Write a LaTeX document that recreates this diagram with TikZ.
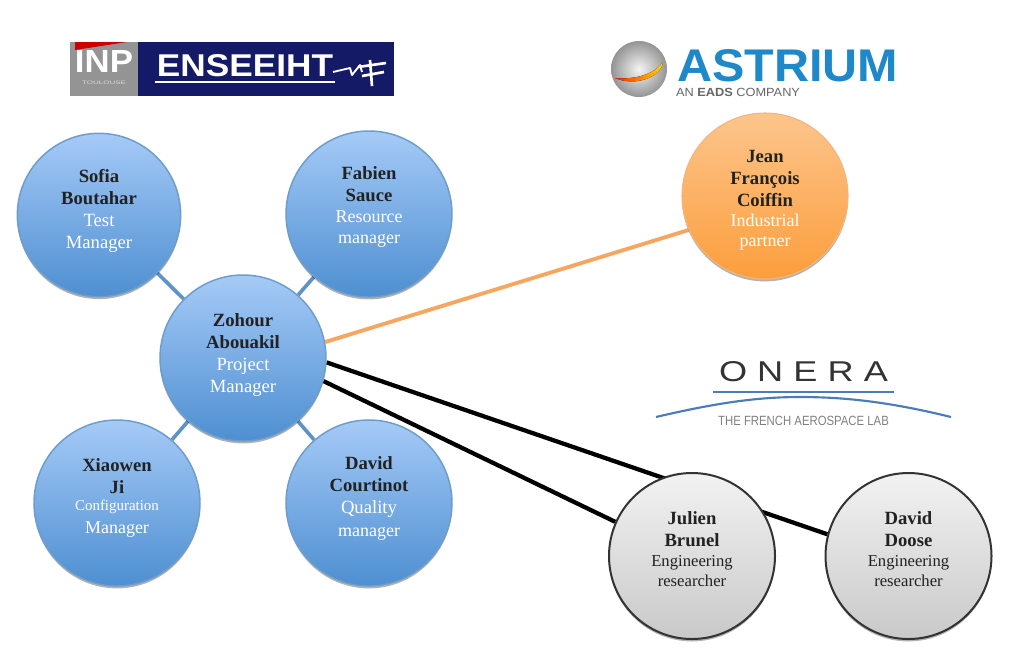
\documentclass[tikz,border=0pt]{standalone}
\usepackage{fontspec}
\usepackage{graphicx}
\setmainfont{Liberation Serif}
\newfontfamily\logofont{Liberation Sans}
\usetikzlibrary{shadows,backgrounds}
\definecolor{ink}{HTML}{222222}
\definecolor{navy}{HTML}{141A66}
\definecolor{astblue}{HTML}{1F88C9}
\definecolor{onerablue}{HTML}{4A7DB8}
\newcommand{\who}[2]{\raisebox{#1}[0pt][0pt]{\fontsize{14}{16.5}\selectfont\begin{tabular}{@{}c@{}}#2\end{tabular}}}
\newcommand{\nm}[1]{{\fontsize{14}{16.5}\selectfont\bfseries\color{ink}#1}}
\newcommand{\rl}[2][14]{{\fontsize{#1}{16.5}\selectfont #2}}
\tikzset{
  x=0.75pt,y=-0.75pt,
  person/.style={circle,minimum size=124.5pt,inner sep=0pt,align=center,
    drop shadow={shadow xshift=0pt,shadow yshift=-1.8pt,opacity=.3,fill=black}},
  bluep/.style={person,draw=bubbleline,line width=1.1pt,top color=bubbletop,bottom color=bubblebot,text=white},
  orangep/.style={person,draw=orangeline,line width=.8pt,top color=orangetop,bottom color=orangebot,text=white},
  grayp/.style={person,draw=black!80,line width=1.5pt,top color=graytop,bottom color=graybot,text=ink},
  bluelink/.style={draw=linkblue,line width=2.7pt},
  orangelink/.style={draw=linkorange,line width=2.9pt},
  blacklink/.style={draw=black,line width=3.2pt},
  logotext/.style={inner sep=0pt,font=\logofont},
}
\definecolor{bubbletop}{HTML}{A5CAF7}
\definecolor{bubblebot}{HTML}{4E8FD1}
\definecolor{bubbleline}{HTML}{6C9DCC}
\definecolor{orangetop}{HTML}{FCC58C}
\definecolor{orangebot}{HTML}{FC9E3C}
\definecolor{orangeline}{HTML}{F6B47C}
\definecolor{graytop}{HTML}{F2F2F2}
\definecolor{graybot}{HTML}{C9C9C9}
\definecolor{linkblue}{HTML}{5C94CA}
\definecolor{linkorange}{HTML}{F6A660}
\begin{document}
\begin{tikzpicture}
\useasboundingbox (0,0) rectangle (1012,662);

% ENSEEIHT logo
\fill[black!42] (70,42) rectangle (138,96);
\fill[navy] (138,42) rectangle (394,96);
\fill[red!80!black] (75,42) -- (127,42) -- (75,50) -- cycle;
\node[logotext,text=white] (inp) at (104,61) {\resizebox{43.5pt}{16.5pt}{\bfseries INP}};
\node[logotext,text=white!85!black] (toul) at (104,83) {\resizebox{33pt}{2.6pt}{TOULOUSE}};
\node[logotext,text=white] (ens) at (245,66) {\resizebox{132pt}{16.5pt}{\bfseries ENSEEIHT}};
\draw[white,line width=1.6pt] (155,82) -- (335,82);
\draw[white,line width=1.4pt,line join=round] (333,72) -- (350,68) -- (352,75) -- (360,65) -- (362,72);
\draw[white,line width=2pt,line join=round] (370,60) -- (372,86) (358,67) -- (386,63) (362,76) -- (384,72);

% ASTRIUM logo
\shade[inner color=white!96!black,outer color=black!42] (639,69) circle (28);
\fill[left color=red!70!orange,right color=yellow!70!orange]
  (615,78) .. controls (635,80) and (655,74) .. (663,62) .. controls (661,77) and (636,87) .. (615,78) -- cycle;
\node[logotext,text=astblue] (ast) at (787.5,66) {\resizebox{165.75pt}{24pt}{\bfseries ASTRIUM}};
\node[logotext,text=black!60] (eads) at (738,92.5) {\resizebox{93pt}{6.2pt}{AN \textbf{EADS} COMPANY}};

% ONERA logo
\node[logotext,text=black!80] (onera) at (803.5,372) {\resizebox{126.75pt}{15pt}{O\kern.28em N\kern.28em E\kern.28em R\kern.28em A}};
\draw[onerablue,line width=2.2pt] (713,392) -- (894,392);
\draw[onerablue,line width=1.6pt] (656,417) .. controls (720,402) and (760,397) .. (800,397) .. controls (845,397) and (890,402) .. (951,417);
\node[logotext,text=black!50] (lab) at (803.5,421) {\resizebox{128pt}{7pt}{THE FRENCH AEROSPACE LAB}};

% People
\node[bluep,minimum size=122.5pt] (sofia) at (99,215) {\who{-.5pt}{\nm{Sofia}\\\nm{Boutahar}\\Test\\Manager}};
\node[bluep] (fabien) at (369,214) {\who{1.4pt}{\nm{Fabien}\\\nm{Sauce}\\[-1pt]\rl[13.5]{Resource}\\[-.6pt]\rl[13.5]{manager}}};
\node[bluep] (zohour) at (243,358) {\who{-1.25pt}{\nm{Zohour}\\\nm{Abouakil}\\Project\\Manager}};
\node[bluep] (xiaowen) at (117,503) {\who{.25pt}{\nm{Xiaowen}\\\nm{Ji}\\[-3.2pt]\rl[11.2]{Configuration}\\[.6pt]\rl[13.5]{Manager}}};
\node[bluep] (courtinot) at (369,503) {\who{-.5pt}{\nm{David}\\\nm{Courtinot}\\\rl[14]{Quality}\\[.5pt]\rl[13.5]{manager}}};
\node[orangep] (jean) at (765,196) {\who{-6.5pt}{\nm{Jean}\\\nm{François}\\\nm{Coiffin}\\[-1.3pt]\rl[13.5]{Industrial}\\[-1.3pt]\rl[13.5]{partner}}};
\node[grayp] (julien) at (692,556) {\who{.25pt}{\nm{Julien}\\\nm{Brunel}\\[-.8pt]\rl[12.5]{Engineering}\\[-1.8pt]\rl[12.5]{researcher}}};
\node[grayp] (doose) at (908.5,556) {\who{.25pt}{\nm{David}\\\nm{Doose}\\[-.8pt]\rl[12.5]{Engineering}\\[-1.8pt]\rl[12.5]{researcher}}};

% Connectors
\begin{scope}[on background layer]
\fill[white] (0,0) rectangle (1012,662);
\draw[bluelink] (zohour) -- (sofia);
\draw[bluelink] (zohour) -- (fabien);
\draw[bluelink] (zohour) -- (xiaowen);
\draw[bluelink] (zohour) -- (courtinot);
\draw[orangelink] (zohour.11) -- (jean.204.4);
\draw[blacklink] (zohour.-3) -- (doose.165);
\draw[blacklink] (zohour.-16.5) -- (julien.156.5);
\end{scope}
\end{tikzpicture}
\end{document}
